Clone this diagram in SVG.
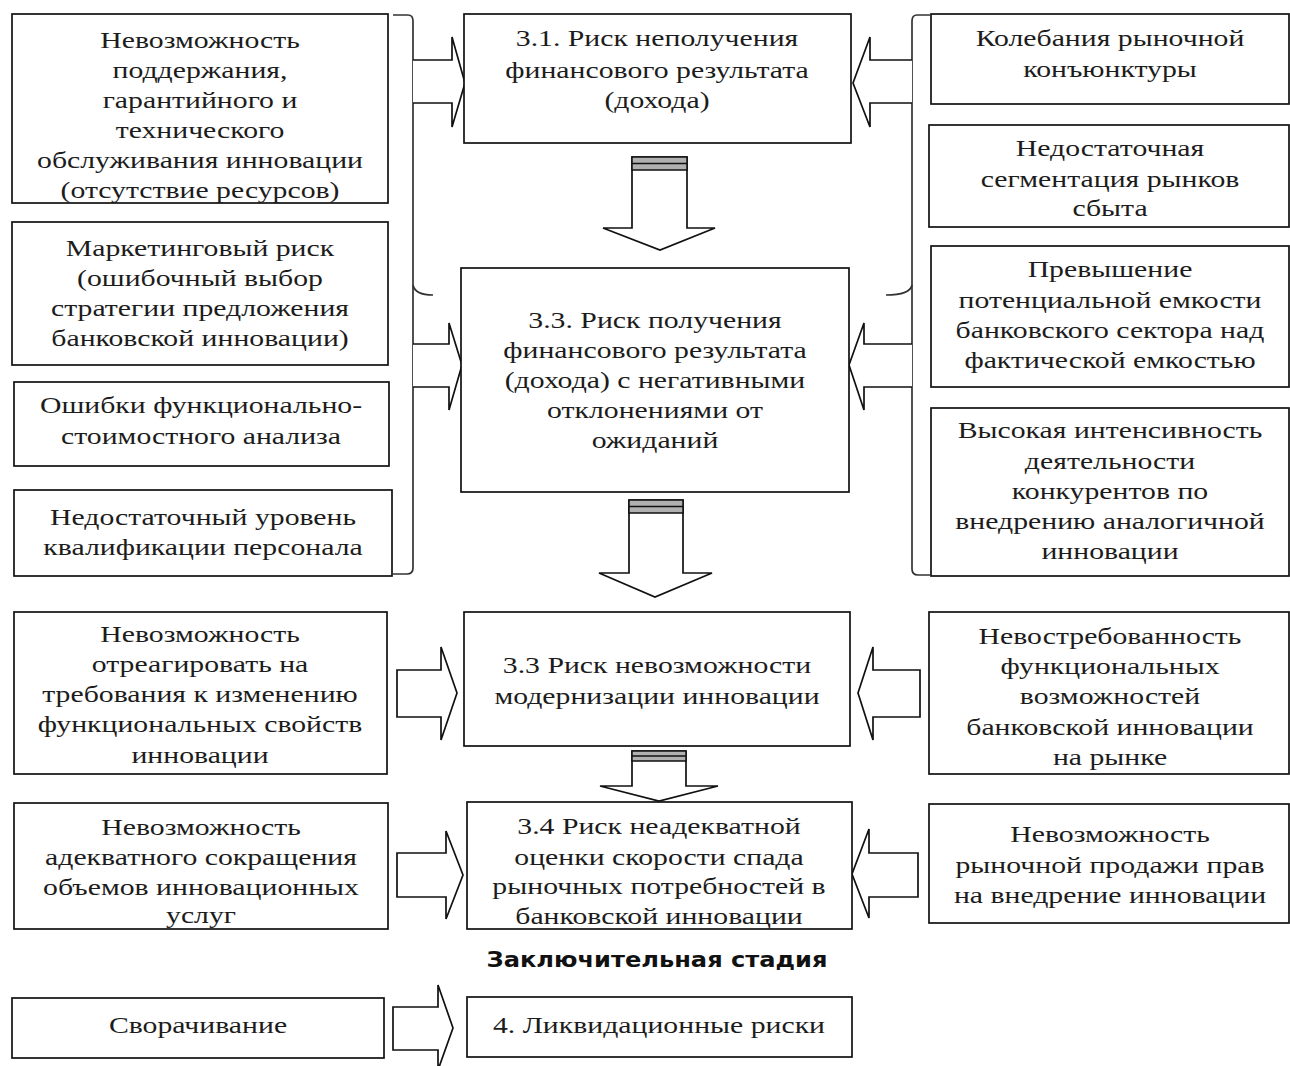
<svg xmlns="http://www.w3.org/2000/svg" width="1290" height="1066" viewBox="0 0 1290 1066">
<style>
.box{fill:#fff;stroke:#111;stroke-width:1.7}
.t{font-family:"Liberation Serif","Times New Roman",serif;font-size:24px;fill:#1c1c1c;text-anchor:middle}
.arr{fill:#fff;stroke:#111;stroke-width:1.7;stroke-linejoin:miter}
.cap{fill:#b0b0b0;stroke:#111;stroke-width:1.5}
.brace{fill:none;stroke:#333;stroke-width:1.7}
.title{font-family:"DejaVu Sans",Verdana,sans-serif;font-size:21px;font-weight:bold;fill:#111;text-anchor:middle}
</style>
<rect width="1290" height="1066" fill="#fff"/>

<g id="connectors">
  <!-- left brace -->
  <path class="brace" d="M393,15 H408 Q413,15 413,21 V568 Q413,574 407,574 H393"/>
  <path class="brace" d="M413,285 Q415,295 433,295"/>
  <!-- right brace -->
  <path class="brace" d="M930,15 H917 Q912,15 912,21 V569 Q912,575 918,575 H930"/>
  <path class="brace" d="M912,285 Q910,295 886,295"/>
  <!-- top arrows into 3.1 -->
  <path class="arr" d="M413,60 H452 V37 L465,83 L452,127 V103 H413"/>
  <path class="arr" d="M912,60 H870 V37 L853,83 L870,127 V103 H912"/>
  <!-- arrows into 3.3 -->
  <path class="arr" d="M413,344 H449 V323 L462,365 L449,410 V387 H413"/>
  <path class="arr" d="M912,344 H864 V323 L849,365 L864,410 V387 H912"/>
  <!-- down arrow 1 -->
  <path class="arr" d="M632,157 H687 V228 H715 L660,250 L603,228 H632 Z"/>
  <rect class="cap" x="632" y="157" width="55" height="13"/>
  <line x1="632" y1="163.5" x2="687" y2="163.5" stroke="#111" stroke-width="1.5"/>
  <!-- down arrow 2 -->
  <path class="arr" d="M629,500 H683 V573 H712 L655,597 L599,573 H629 Z"/>
  <rect class="cap" x="629" y="500" width="54" height="13"/>
  <line x1="629" y1="506.5" x2="683" y2="506.5" stroke="#111" stroke-width="1.5"/>
  <!-- down arrow 3 -->
  <path class="arr" d="M632,751 H686 V786 H718 L659,801 L600,786 H632 Z"/>
  <rect class="cap" x="632" y="751" width="54" height="10"/>
  <line x1="632" y1="756" x2="686" y2="756" stroke="#111" stroke-width="1.5"/>
  <!-- middle row arrows -->
  <path class="arr" d="M397,670 H441 V647 L457,693 L441,740 V717 H397 Z"/>
  <path class="arr" d="M920,670 H873 V647 L858,693 L873,740 V717 H920 Z"/>
  <!-- bottom row arrows -->
  <path class="arr" d="M397,853 H446 V831 L463,875 L446,919 V897 H397 Z"/>
  <path class="arr" d="M918,853 H869 V829 L852,874 L869,918 V897 H918 Z"/>
  <!-- last row arrow -->
  <path class="arr" d="M393,1007 H438 V985 L453,1028 L438,1070 V1050 H393 Z"/>
</g>

<g id="left1">
  <rect class="box" x="12" y="14" width="376" height="189"/>
  <g transform="translate(200 0) scale(1.24 1)">
    <text class="t" y="48">Невозможность</text>
    <text class="t" y="78">поддержания,</text>
    <text class="t" y="108">гарантийного и</text>
    <text class="t" y="138">технического</text>
    <text class="t" y="168">обслуживания инновации</text>
    <text class="t" y="198">(отсутствие ресурсов)</text>
  </g>
</g>
<g id="left2">
  <rect class="box" x="12" y="222" width="376" height="143"/>
  <g transform="translate(200 0) scale(1.24 1)">
    <text class="t" y="256">Маркетинговый риск</text>
    <text class="t" y="286">(ошибочный выбор</text>
    <text class="t" y="316">стратегии предложения</text>
    <text class="t" y="346">банковской инновации)</text>
  </g>
</g>
<g id="left3">
  <rect class="box" x="14" y="382" width="375" height="84"/>
  <g transform="translate(201 0) scale(1.24 1)">
    <text class="t" y="413">Ошибки функционально-</text>
    <text class="t" y="444">стоимостного анализа</text>
  </g>
</g>
<g id="left4">
  <rect class="box" x="14" y="490" width="378" height="86"/>
  <g transform="translate(203 0) scale(1.24 1)">
    <text class="t" y="525">Недостаточный уровень</text>
    <text class="t" y="555">квалификации персонала</text>
  </g>
</g>

<g id="n31">
  <rect class="box" x="464" y="14" width="387" height="129"/>
  <g transform="translate(657 0) scale(1.24 1)">
    <text class="t" y="46">3.1. Риск неполучения</text>
    <text class="t" y="78">финансового результата</text>
    <text class="t" y="108">(дохода)</text>
  </g>
</g>
<g id="n33a">
  <rect class="box" x="461" y="268" width="388" height="224"/>
  <g transform="translate(655 0) scale(1.24 1)">
    <text class="t" y="328">3.3. Риск получения</text>
    <text class="t" y="358">финансового результата</text>
    <text class="t" y="388">(дохода) с негативными</text>
    <text class="t" y="418">отклонениями от</text>
    <text class="t" y="448">ожиданий</text>
  </g>
</g>

<g id="right1">
  <rect class="box" x="931" y="14" width="358" height="90"/>
  <g transform="translate(1110 0) scale(1.24 1)">
    <text class="t" y="46">Колебания рыночной</text>
    <text class="t" y="77">конъюнктуры</text>
  </g>
</g>
<g id="right2">
  <rect class="box" x="929" y="125" width="360" height="102"/>
  <g transform="translate(1110 0) scale(1.24 1)">
    <text class="t" y="156">Недостаточная</text>
    <text class="t" y="187">сегментация рынков</text>
    <text class="t" y="216">сбыта</text>
  </g>
</g>
<g id="right3">
  <rect class="box" x="931" y="246" width="358" height="141"/>
  <g transform="translate(1110 0) scale(1.24 1)">
    <text class="t" y="277">Превышение</text>
    <text class="t" y="308">потенциальной емкости</text>
    <text class="t" y="338">банковского сектора над</text>
    <text class="t" y="368">фактической емкостью</text>
  </g>
</g>
<g id="right4">
  <rect class="box" x="931" y="408" width="358" height="168"/>
  <g transform="translate(1110 0) scale(1.24 1)">
    <text class="t" y="438">Высокая интенсивность</text>
    <text class="t" y="469">деятельности</text>
    <text class="t" y="499">конкурентов по</text>
    <text class="t" y="529">внедрению аналогичной</text>
    <text class="t" y="559">инновации</text>
  </g>
</g>

<g id="midLeft">
  <rect class="box" x="14" y="612" width="373" height="162"/>
  <g transform="translate(200 0) scale(1.24 1)">
    <text class="t" y="642">Невозможность</text>
    <text class="t" y="672">отреагировать на</text>
    <text class="t" y="702">требования к изменению</text>
    <text class="t" y="732">функциональных свойств</text>
    <text class="t" y="763">инновации</text>
  </g>
</g>
<g id="n33b">
  <rect class="box" x="464" y="612" width="386" height="134"/>
  <g transform="translate(657 0) scale(1.24 1)">
    <text class="t" y="673">3.3 Риск невозможности</text>
    <text class="t" y="704">модернизации инновации</text>
  </g>
</g>
<g id="midRight">
  <rect class="box" x="929" y="612" width="360" height="162"/>
  <g transform="translate(1110 0) scale(1.24 1)">
    <text class="t" y="644">Невостребованность</text>
    <text class="t" y="674">функциональных</text>
    <text class="t" y="704">возможностей</text>
    <text class="t" y="735">банковской инновации</text>
    <text class="t" y="765">на рынке</text>
  </g>
</g>

<g id="botLeft">
  <g transform="translate(201 0) scale(1.24 1)">
    <text class="t" y="835">Невозможность</text>
    <text class="t" y="865">адекватного сокращения</text>
    <text class="t" y="895">объемов инновационных</text>
    <text class="t" y="923">услуг</text>
  </g>
  <rect class="box" x="14" y="803" width="374" height="126" fill="none" style="fill:none"/>
</g>
<g id="n34">
  <rect class="box" x="467" y="802" width="385" height="127"/>
  <g transform="translate(659 0) scale(1.24 1)">
    <text class="t" y="834">3.4 Риск неадекватной</text>
    <text class="t" y="865">оценки скорости спада</text>
    <text class="t" y="894">рыночных потребностей в</text>
    <text class="t" y="924">банковской инновации</text>
  </g>
</g>
<g id="botRight">
  <rect class="box" x="929" y="804" width="360" height="119"/>
  <g transform="translate(1110 0) scale(1.24 1)">
    <text class="t" y="842">Невозможность</text>
    <text class="t" y="873">рыночной продажи прав</text>
    <text class="t" y="903">на внедрение инновации</text>
  </g>
</g>

<g id="title">
  <text class="title" x="657" y="967" textLength="341" lengthAdjust="spacingAndGlyphs">Заключительная стадия</text>
</g>

<g id="lastLeft">
  <rect class="box" x="12" y="998" width="372" height="60"/>
  <g transform="translate(198 0) scale(1.24 1)">
    <text class="t" y="1033">Сворачивание</text>
  </g>
</g>
<g id="n4">
  <rect class="box" x="467" y="997" width="385" height="60"/>
  <g transform="translate(659 0) scale(1.24 1)">
    <text class="t" y="1033">4. Ликвидационные риски</text>
  </g>
</g>
</svg>
